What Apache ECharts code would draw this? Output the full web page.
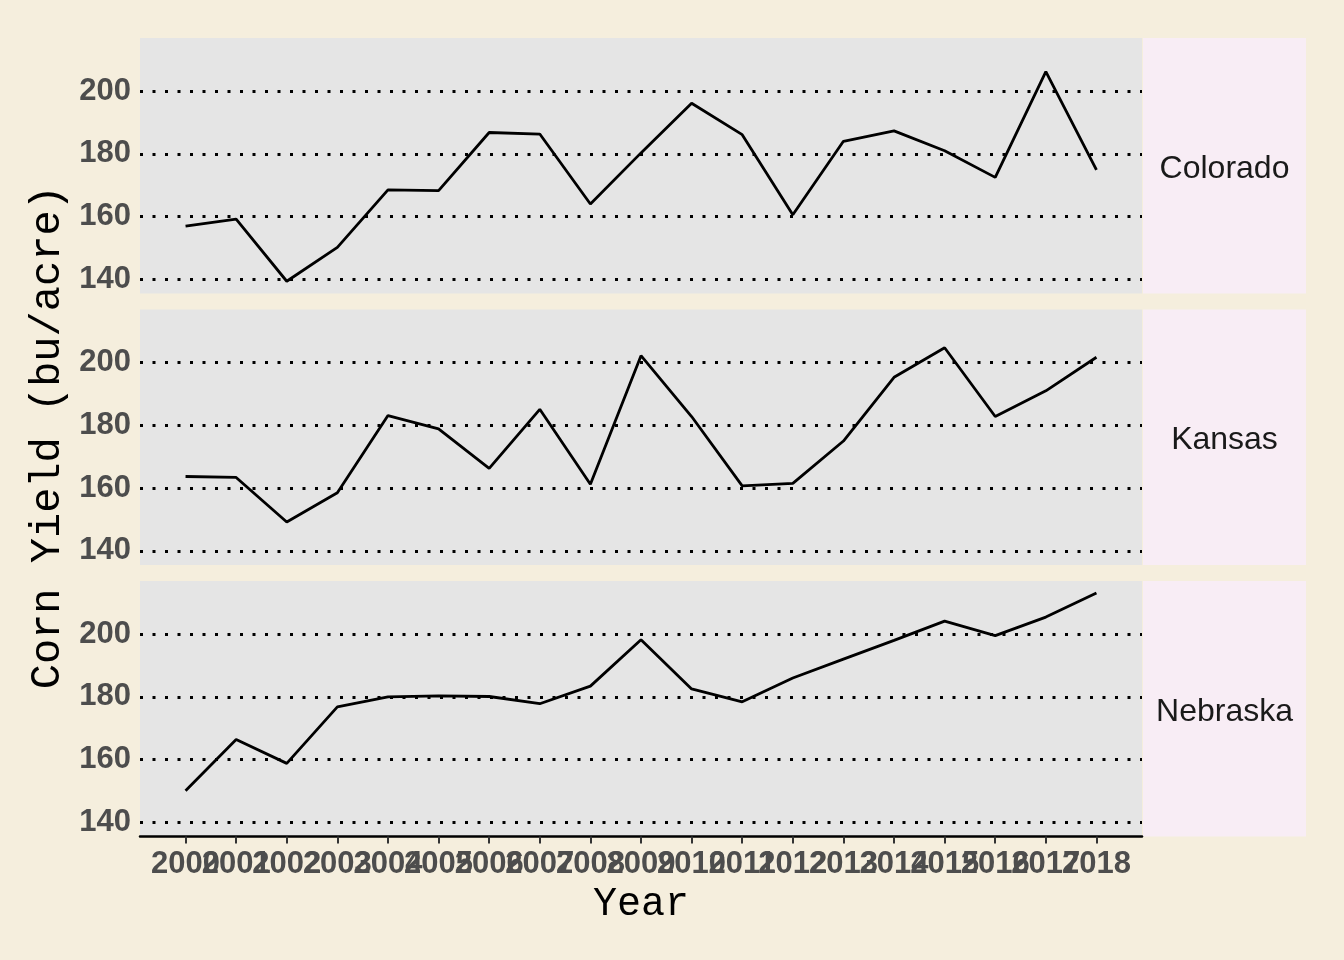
<!DOCTYPE html>
<html>
<head>
<meta charset="utf-8">
<script src="https://cdn.jsdelivr.net/npm/echarts@6/dist/echarts.min.js"></script>
<style>
html,body{margin:0;padding:0;background:#F5EEDD;}
#chart{width:1344px;height:960px;}
</style>
</head>
<body>
<div id="chart"></div>
<script>
const years = [2000,2001,2002,2003,2004,2005,2006,2007,2008,2009,2010,2011,2012,2013,2014,2015,2016,2017,2018];
const states = ['Colorado','Kansas','Nebraska'];
const colorado = [157,159.2,139.4,150.2,168.5,168.3,186.8,186.3,164,180.3,196.1,186.1,160.6,184,187.3,181,172.5,206.2,174.9];
const kansas = [163.7,163.4,149.2,158.5,183.1,178.9,166.3,185.1,161.2,202.2,182.8,160.7,161.5,175,195.3,204.7,182.8,191,201.7];
const nebraska = [150.1,166.4,158.8,176.8,180,180.3,180.1,177.8,183.4,198.2,182.5,178.4,186,192,198,204.1,199.5,205.4,213.1];
const yTicks = [140,160,180,200];
const yMin = 135.5, yMax = 216.9;
const xMin = 1999.1, xMax = 2018.9;
const seriesValues = [colorado, kansas, nebraska];

const evenYears = years.filter((y,i) => i % 2 === 0);
const oddYears = years.filter((y,i) => i % 2 === 1);

const chart = echarts.init(document.getElementById('chart'));

const gridTops = [38, 309.5, 581];
const gridH = 255.5;
const gridLeft = 140, gridW = 1002;
const stripW = 163;

const labelFont = {fontFamily:'Liberation Sans, Arial, sans-serif', fontWeight:'bold', fontSize:31, color:'#4D4D4D'};
const titleFont = {fontFamily:'Liberation Mono, Courier New, monospace', color:'#000'};

const grids = gridTops.map(t => ({left:gridLeft, top:t, width:gridW, height:gridH, show:true, backgroundColor:'#E5E5E5', borderWidth:0, containLabel:false}));

const xAxes = gridTops.map((t,i) => {
  const last = i === gridTops.length - 1;
  return {
    type:'value', gridIndex:i, min:xMin, max:xMax, position:'bottom',
    axisLine:{show:last, onZero:false, lineStyle:{color:'#000', width:2.5}},
    axisTick:{show:last, length:7, lineStyle:{color:'#333', width:2}, customValues: years},
    axisLabel:Object.assign({show:last, margin:12, customValues: evenYears, formatter: v => String(v), hideOverlap:false}, labelFont),
    splitLine:{show:false},
    name: last ? 'Year' : '',
    nameLocation:'middle', nameGap:48,
    nameTextStyle:Object.assign({fontSize:40}, titleFont)
  };
});
// second label layer for the odd years on the bottom panel
xAxes.push({
  type:'value', gridIndex:gridTops.length-1, min:xMin, max:xMax, position:'bottom',
  axisLine:{show:false, onZero:false}, axisTick:{show:false},
  axisLabel:Object.assign({show:true, margin:12, customValues: oddYears, formatter: v => String(v), hideOverlap:false}, labelFont),
  splitLine:{show:false}
});

const yAxes = gridTops.map((t,i) => ({
  type:'value', gridIndex:i, min:yMin, max:yMax,
  axisLine:{show:false},
  axisTick:{show:false, customValues: yTicks},
  axisLabel:Object.assign({margin:9, customValues: yTicks, lineHeight:30, padding:[5,0,0,0]}, labelFont),
  splitLine:{show:true, lineStyle:{color:'#000', width:3, type:[3,9.5], cap:'butt'}},
  name: i === 1 ? 'Corn Yield (bu/acre)' : '',
  nameLocation:'middle', nameRotate:90, nameGap:55,
  nameTextStyle:Object.assign({fontSize:42}, titleFont)
}));

const series = seriesValues.map((vals,i) => ({
  type:'line', xAxisIndex:i, yAxisIndex:i,
  data: years.map((y,k) => [y, vals[k]]),
  showSymbol:false, symbol:'none',
  lineStyle:{color:'#000', width:2.8},
  animation:false, silent:true
}));

const graphics = [];
gridTops.forEach((t,i) => {
  graphics.push({type:'rect', left:gridLeft+gridW+1, top:t, shape:{width:stripW, height:gridH}, style:{fill:'#F8EDF5'}, silent:true});
  graphics.push({type:'text', x:gridLeft+gridW+1+stripW/2, y:t+gridH/2+3, style:{text:states[i], fill:'#1A1A1A', font:'32px "Liberation Sans", Arial, sans-serif', align:'center', verticalAlign:'middle'}, silent:true});
});

chart.setOption({
  backgroundColor:'#F5EEDD',
  animation:false,
  grid:grids,
  xAxis:xAxes,
  yAxis:yAxes,
  series:series,
  graphic:graphics
});
</script>
</body>
</html>
